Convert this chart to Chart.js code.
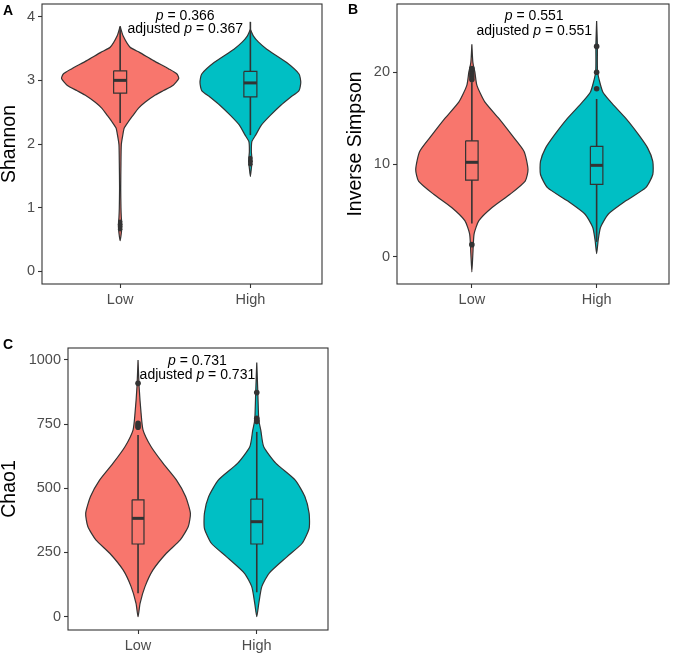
<!DOCTYPE html>
<html>
<head>
<meta charset="utf-8">
<script src="https://cdn.jsdelivr.net/npm/chart.js@4.4.0/dist/chart.umd.min.js"></script>
<style>
  html, body { margin: 0; padding: 0; background: #fff; }
  #wrap { position: relative; width: 675px; height: 655px; }
  canvas { position: absolute; }
</style>
</head>
<body>
<div id="wrap">
  <canvas id="cA" width="335" height="320" style="left:0;top:0"></canvas>
  <canvas id="cB" width="340" height="320" style="left:335px;top:0"></canvas>
  <canvas id="cC" width="335" height="335" style="left:0;top:320px"></canvas>
</div>
<script>
// categories and colours
const groups = ['Low', 'High'];
const groupColors = ['#F8766D', '#00BFC4'];

// p values shown above each panel
const pValues = [0.366, 0.551, 0.731];
const pAdjusted = [0.367, 0.551, 0.731];

// y axis tick labels
const shannonTicks = [0, 1, 2, 3, 4];
const simpsonTicks = [0, 10, 20];
const chao1Ticks = [0, 250, 500, 750, 1000];

// violin outlines (y value, relative density)
const shannonLowY = [3.85, 3.7, 3.52, 3.44, 3.31, 3.18, 3.1, 3.03, 2.92, 2.84, 2.77, 2.66, 2.56, 2.45, 2.35, 2.25, 2.14, 1.99, 1.7, 1.3, 1.0, 0.85, 0.72, 0.6, 0.48];
const shannonLowDens = [0, 0.05, 0.17, 0.33, 0.57, 0.83, 0.97, 1.0, 0.9, 0.74, 0.6, 0.43, 0.31, 0.22, 0.14, 0.07, 0.045, 0.02, 0.014, 0.01, 0.014, 0.02, 0.03, 0.02, 0];
const shannonHighY = [3.8, 3.7, 3.6, 3.49, 3.28, 3.1, 2.97, 2.84, 2.74, 2.61, 2.45, 2.3, 2.14, 2.04, 1.88, 1.73, 1.62, 1.49];
const shannonHighDens = [0, 0.05, 0.14, 0.28, 0.62, 0.83, 0.86, 0.83, 0.69, 0.52, 0.34, 0.19, 0.09, 0.026, 0.017, 0.03, 0.017, 0];

const simpsonLowY = [23.04, 21.07, 20.0, 18.57, 16.78, 14.99, 13.2, 11.41, 9.45, 8.19, 6.76, 5.33, 3.9, 2.47, 0.32, -1.65];
const simpsonLowDens = [0, 0.018, 0.054, 0.09, 0.23, 0.48, 0.71, 0.93, 1.0, 0.95, 0.68, 0.36, 0.125, 0.04, 0.018, 0];
const simpsonHighY = [25.55, 22.86, 20.0, 17.85, 16.78, 14.99, 13.2, 11.77, 10.34, 8.91, 7.48, 6.05, 4.62, 3.18, 1.75, 0.32];
const simpsonHighDens = [0, 0.014, 0.018, 0.11, 0.25, 0.52, 0.75, 0.91, 1.0, 1.0, 0.875, 0.52, 0.21, 0.07, 0.027, 0];

const chao1LowY = [1000, 896, 792, 727, 662, 597, 532, 468, 403, 351, 299, 247, 182, 117, 52, 0];
const chao1LowDens = [0, 0.02, 0.057, 0.094, 0.245, 0.47, 0.72, 0.89, 0.98, 0.94, 0.79, 0.53, 0.28, 0.13, 0.038, 0];
const chao1HighY = [990, 873, 766, 727, 662, 597, 532, 468, 403, 344, 286, 234, 169, 117, 52, 0];
const chao1HighDens = [0, 0.02, 0.038, 0.075, 0.13, 0.36, 0.72, 0.9, 0.98, 0.98, 0.85, 0.57, 0.23, 0.094, 0.038, 0];

// box plot stats, [Low, High]
const shannonQ1 = [2.80, 2.74];
const shannonMedian = [3.0, 2.96];
const shannonQ3 = [3.15, 3.14];
const shannonWhiskerLo = [2.33, 2.14];
const shannonWhiskerHi = [3.84, 3.92];
const shannonOutliersLow = [0.66, 0.7, 0.74, 0.78];
const shannonOutliersHigh = [1.68, 1.73, 1.78];

const simpsonQ1 = [8.3, 7.83];
const simpsonMedian = [10.23, 9.9];
const simpsonQ3 = [12.56, 11.95];
const simpsonWhiskerLo = [3.6, 1.6];
const simpsonWhiskerHi = [18.9, 17.1];
const simpsonOutliersLow = [1.3, 19.2, 19.5, 19.8, 20.1, 20.4];
const simpsonOutliersHigh = [18.2, 20.0, 22.8];

const chao1Q1 = [283, 283];
const chao1Median = [383, 370];
const chao1Q3 = [455, 458];
const chao1WhiskerLo = [91, 95];
const chao1WhiskerHi = [708, 720];
const chao1OutliersLow = [909, 753, 745, 738];
const chao1OutliersHigh = [873, 773, 765, 760];

const FONT = '"Liberation Sans", Arial, sans-serif';
const DARK = '#333333';
const VIOLIN_W = 0.45;
const BOX_W = 0.05;

Chart.defaults.font.family = FONT;
Chart.defaults.animation = false;

function violinPoints(center, ys, dens) {
  const left = ys.map((y, i) => ({ x: center - dens[i] * VIOLIN_W, y: y }));
  const right = ys.map((y, i) => ({ x: center + dens[i] * VIOLIN_W, y: y })).reverse();
  return left.concat(right.slice(1));
}

// border box, p value text and panel letter
const panelDecor = {
  id: 'panelDecor',
  afterDatasetsDraw(chart, args, opts) {
    const { ctx, chartArea: a, scales } = chart;
    ctx.save();
    ctx.strokeStyle = DARK;
    ctx.lineWidth = 1.1;
    ctx.strokeRect(a.left, a.top, a.right - a.left, a.bottom - a.top);

    const cx = scales.x.getPixelForValue(1.5);
    const lines = [
      [['p', true], [' = ' + opts.p.toFixed(3), false]],
      [['adjusted ', false], ['p', true], [' = ' + opts.padj.toFixed(3), false]]
    ];
    ctx.fillStyle = '#000';
    ctx.textBaseline = 'middle';
    ctx.textAlign = 'left';
    lines.forEach((segs, i) => {
      let total = 0;
      segs.forEach(s => {
        ctx.font = (s[1] ? 'italic ' : '') + '14px ' + FONT;
        total += ctx.measureText(s[0]).width;
      });
      let x = cx - total / 2;
      const y = a.top + opts.lineY[i];
      segs.forEach(s => {
        ctx.font = (s[1] ? 'italic ' : '') + '14px ' + FONT;
        ctx.fillText(s[0], x, y);
        x += ctx.measureText(s[0]).width;
      });
    });

    ctx.font = 'bold 14px ' + FONT;
    ctx.textBaseline = 'alphabetic';
    ctx.fillText(opts.letter, opts.letterX, opts.letterY);
    ctx.restore();
  }
};

function makePanel(id, cfg) {
  const datasets = [];
  groups.forEach((g, i) => {
    const c = i + 1;
    datasets.push({
      label: g + ' violin',
      data: violinPoints(c, cfg.violinY[i], cfg.violinDens[i]),
      showLine: true, fill: 'shape', tension: 0.2,
      backgroundColor: groupColors[i], borderColor: DARK, borderWidth: 1.2,
      borderJoinStyle: 'round', pointRadius: 0, order: 5
    });
    datasets.push({
      label: g + ' whisker',
      data: [{ x: c, y: cfg.wlo[i] }, { x: c, y: cfg.whi[i] }],
      showLine: true, borderColor: DARK, borderWidth: 1.6, pointRadius: 0, order: 4
    });
    datasets.push({
      label: g + ' box',
      data: [
        { x: c - BOX_W, y: cfg.q3[i] }, { x: c + BOX_W, y: cfg.q3[i] },
        { x: c + BOX_W, y: cfg.q1[i] }, { x: c - BOX_W, y: cfg.q1[i] },
        { x: c - BOX_W, y: cfg.q3[i] }
      ],
      showLine: true, fill: 'shape', backgroundColor: groupColors[i],
      borderColor: DARK, borderWidth: 1.2, borderJoinStyle: 'miter', pointRadius: 0, order: 3
    });
    datasets.push({
      label: g + ' median',
      data: [{ x: c - BOX_W, y: cfg.med[i] }, { x: c + BOX_W, y: cfg.med[i] }],
      showLine: true, borderColor: DARK, borderWidth: 3, pointRadius: 0, order: 2
    });
    datasets.push({
      label: g + ' outliers',
      data: cfg.outliers[i].map(v => ({ x: c, y: v })),
      showLine: false, pointRadius: cfg.dot, pointBackgroundColor: DARK,
      pointBorderWidth: 0, order: 1
    });
  });

  new Chart(document.getElementById(id), {
    type: 'scatter',
    data: { datasets: datasets },
    plugins: [panelDecor],
    options: {
      responsive: false,
      devicePixelRatio: 1,
      events: [],
      layout: { padding: cfg.padding },
      plugins: {
        legend: { display: false },
        tooltip: { enabled: false },
        panelDecor: { p: cfg.p, padj: cfg.padj, letter: cfg.letter, letterX: cfg.letterX, letterY: cfg.letterY, lineY: cfg.lineY }
      },
      scales: {
        x: {
          type: 'linear', min: cfg.xMin, max: cfg.xMax,
          border: { display: false },
          grid: { drawOnChartArea: false, drawTicks: true, tickLength: 4, tickWidth: 1.1, tickColor: DARK },
          ticks: { color: '#4d4d4d', font: { size: 14.5 }, padding: 3, maxRotation: 0, autoSkip: false,
                   callback: v => groups[v - 1] },
          afterBuildTicks: s => { s.ticks = groups.map((g, i) => ({ value: i + 1 })); },
          afterFit: s => { s.height = cfg.xHeight; s.paddingLeft = 0; s.paddingRight = 0; }
        },
        y: {
          type: 'linear', min: cfg.yMin, max: cfg.yMax,
          border: { display: false },
          grid: { drawOnChartArea: false, drawTicks: true, tickLength: 4, tickWidth: 1.1, tickColor: DARK },
          ticks: { color: '#4d4d4d', font: { size: 14.5 }, padding: 3, callback: v => String(v) },
          title: { display: true, text: cfg.title, color: '#000', font: { size: 19.5, lineHeight: 1 }, padding: { top: cfg.titlePad, bottom: 0 } },
          afterBuildTicks: s => { s.ticks = cfg.ticks.map(v => ({ value: v })); },
          afterFit: s => { s.width = cfg.yWidth; s.paddingTop = 0; s.paddingBottom = 0; }
        }
      }
    }
  });
}

makePanel('cA', {
  letter: 'A', letterX: 3, letterY: 15, title: 'Shannon', titlePad: 0,
  p: pValues[0], padj: pAdjusted[0], lineY: [12.3, 25.3],
  ticks: shannonTicks, yMin: -0.2, yMax: 4.2, xMin: 0.4, xMax: 2.55,
  padding: { left: 0, top: 1, right: 13, bottom: 0 }, yWidth: 42, xHeight: 36, dot: 2.2,
  violinY: [shannonLowY, shannonHighY], violinDens: [shannonLowDens, shannonHighDens],
  q1: shannonQ1, med: shannonMedian, q3: shannonQ3, wlo: shannonWhiskerLo, whi: shannonWhiskerHi,
  outliers: [shannonOutliersLow, shannonOutliersHigh]
});

makePanel('cB', {
  letter: 'B', letterX: 13, letterY: 13.5, title: 'Inverse Simpson', titlePad: 10.5,
  p: pValues[1], padj: pAdjusted[1], lineY: [12.3, 27.3],
  ticks: simpsonTicks, yMin: -2.97, yMax: 27.4, xMin: 0.4, xMax: 2.58,
  padding: { left: 0, top: 1, right: 6, bottom: 0 }, yWidth: 62, xHeight: 36, dot: 2.8,
  violinY: [simpsonLowY, simpsonHighY], violinDens: [simpsonLowDens, simpsonHighDens],
  q1: simpsonQ1, med: simpsonMedian, q3: simpsonQ3, wlo: simpsonWhiskerLo, whi: simpsonWhiskerHi,
  outliers: [simpsonOutliersLow, simpsonOutliersHigh]
});

makePanel('cC', {
  letter: 'C', letterX: 3, letterY: 29.3, title: 'Chao1', titlePad: 0,
  p: pValues[2], padj: pAdjusted[2], lineY: [12.7, 27],
  ticks: chao1Ticks, yMin: -52, yMax: 1046.7, xMin: 0.41, xMax: 2.6,
  padding: { left: 0, top: 28, right: 7, bottom: 0 }, yWidth: 68, xHeight: 25, dot: 2.8,
  violinY: [chao1LowY, chao1HighY], violinDens: [chao1LowDens, chao1HighDens],
  q1: chao1Q1, med: chao1Median, q3: chao1Q3, wlo: chao1WhiskerLo, whi: chao1WhiskerHi,
  outliers: [chao1OutliersLow, chao1OutliersHigh]
});
</script>
</body>
</html>
